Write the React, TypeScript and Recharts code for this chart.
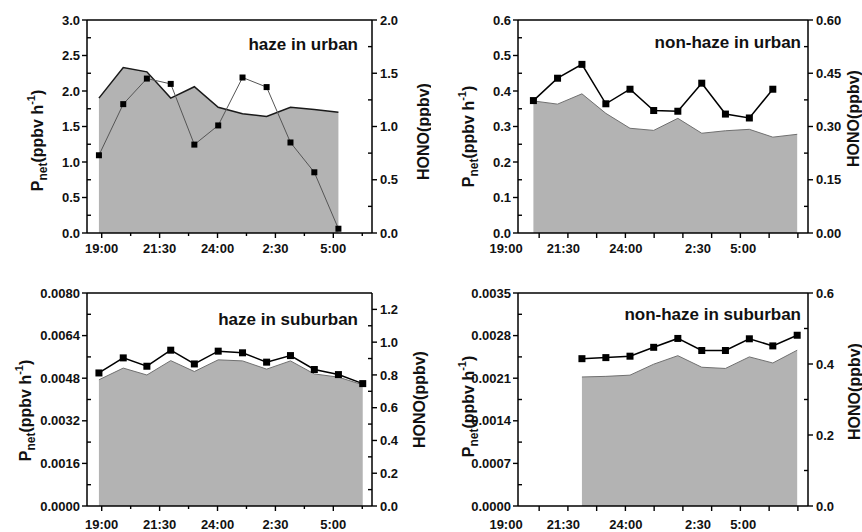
import React from 'react';
import { ComposedChart, Area, Line, XAxis, YAxis, ReferenceLine, Label } from 'recharts';

// time in hours (24 = midnight, 26.5 = 2:30 next day)
const hazeTime = [18.88, 19.93, 20.95, 21.98, 23.0, 24.03, 25.08, 26.12, 27.15, 28.18, 29.22, 30.27];
const nonHazeTime = [20.19, 21.24, 22.3, 23.34, 24.39, 25.42, 26.47, 27.51, 28.54, 29.58, 30.6, 31.66];

// haze in urban
const urbanHazePnet = [1.9, 2.33, 2.27, 1.9, 2.06, 1.77, 1.68, 1.64, 1.77, 1.74, 1.7];
const urbanHazeHono = [0.73, 1.21, 1.45, 1.4, 0.83, 1.01, 1.46, 1.37, 0.85, 0.57, 0.04];

// non-haze in urban
const urbanCleanPnet = [0.372, 0.363, 0.392, 0.337, 0.295, 0.289, 0.323, 0.281, 0.288, 0.292, 0.27, 0.278];
const urbanCleanHono = [0.373, 0.436, 0.475, 0.364, 0.405, 0.345, 0.343, 0.422, 0.335, 0.324, 0.405];

// haze in suburban
const suburbHazePnet = [0.00474, 0.00518, 0.00492, 0.00546, 0.00505, 0.00549, 0.00545, 0.00514, 0.00545, 0.00496, 0.00484, 0.00455];
const suburbHazeHono = [0.812, 0.904, 0.853, 0.951, 0.867, 0.945, 0.935, 0.878, 0.918, 0.833, 0.802, 0.747];

// non-haze in suburban (no data before ~22:20)
const suburbCleanTime = [22.3, 23.34, 24.39, 25.42, 26.47, 27.51, 28.54, 29.58, 30.6, 31.66];
const suburbCleanPnet = [0.00212, 0.00213, 0.00215, 0.00233, 0.00247, 0.00228, 0.00226, 0.00245, 0.00235, 0.00256];
const suburbCleanHono = [0.415, 0.418, 0.422, 0.447, 0.472, 0.438, 0.438, 0.471, 0.451, 0.481];

const timeLabels = ['19:00', '21:30', '24:00', '2:30', '5:00'];
const leftColLabelAt = [19, 21.5, 24, 26.5, 29];
const leftColMinor = [20.25, 22.75, 25.25, 27.75, 30.25];
const rightColLabelAt = [19.0, 21.49, 24.21, 27.35, 29.31];
const rightColTicks = [20.44, 21.69, 22.94, 24.19, 25.44, 26.69, 27.94, 29.19, 30.44, 31.69];

const FONT = '"Liberation Sans", Arial, Helvetica, sans-serif';

const table = (t: number[], pnet: number[], hono: number[]) =>
  t.map((time, i) => ({ time, pnet: pnet[i], hono: hono[i] ?? null }));

const yTick = (side: 'left' | 'right', majors: number[], decimals: number) => (props: any) => {
  const { x, y, payload } = props;
  const v = payload.value;
  const major = majors.includes(v);
  const out = side === 'left' ? -1 : 1;
  const x2 = major ? x + out * 5 : x - out * 4;
  return (
    <g>
      <line x1={x} y1={y} x2={x2} y2={y} stroke="#000" strokeWidth={1.4} />
      {major && (
        <text
          x={x + (side === 'left' ? -7 : 8)}
          y={y}
          dy="0.36em"
          textAnchor={side === 'left' ? 'end' : 'start'}
          fontFamily={FONT}
          fontWeight="bold"
          fontSize={13}
          fill="#111"
        >
          {v.toFixed(decimals)}
        </text>
      )}
    </g>
  );
};

const xTick = (lines: number[], minor: number[], labelAt: number[], labelDy: number) => (props: any) => {
  const { x, y, payload } = props;
  const v = payload.value;
  const li = labelAt.indexOf(v);
  const len = lines.includes(v) ? 5 : minor.includes(v) ? 3 : 0;
  return (
    <g>
      {len > 0 && <line x1={x} y1={y} x2={x} y2={y + len} stroke="#000" strokeWidth={1.4} />}
      {li >= 0 && (
        <text x={x} y={y + labelDy} textAnchor="middle" fontFamily={FONT} fontWeight="bold" fontSize={13} fill="#111">
          {timeLabels[li]}
        </text>
      )}
    </g>
  );
};

const pnetTitle = (bx: number, dyc: number) => (props: any) => {
  const vb = props.viewBox;
  const x = vb.x + bx;
  const y = vb.y + vb.height / 2 + dyc;
  return (
    <text transform={`rotate(-90 ${x} ${y})`} x={x} y={y} textAnchor="middle" fontFamily={FONT} fontWeight="bold" fontSize={16} fill="#111">
      <tspan>P</tspan>
      <tspan fontSize={12} dy={4}>net</tspan>
      <tspan dy={-4}>(ppbv h</tspan>
      <tspan fontSize={11} dy={-8}>-1</tspan>
      <tspan dy={8}>)</tspan>
    </text>
  );
};

const honoTitle = (bx: number, dyc: number) => (props: any) => {
  const vb = props.viewBox;
  const x = vb.x + bx;
  const y = vb.y + vb.height / 2 + dyc;
  return (
    <text transform={`rotate(-90 ${x} ${y})`} x={x} y={y} textAnchor="middle" fontFamily={FONT} fontWeight="bold" fontSize={16} fill="#111">
      HONO(ppbv)
    </text>
  );
};

const SquareDot = (size: number) => (props: any) => {
  const { cx, cy, index } = props;
  if (cx == null || cy == null) return <g key={`d-${index}`} />;
  return <rect key={`d-${index}`} x={cx - size / 2} y={cy - size / 2} width={size} height={size} fill="#000" />;
};

interface PanelProps {
  left: number;
  top: number;
  width: number;
  height: number;
  plotTop: number;
  xHeight: number;
  yLeftWidth: number;
  yRightWidth: number;
  data: { time: number; pnet: number; hono: number | null }[];
  xDomain: [number, number];
  xLines: number[];
  xMinor: number[];
  xLabelAt: number[];
  xLabelDy: number;
  leftMax: number;
  leftMajor: number[];
  leftMinor: number[];
  leftDec: number;
  rightMax: number;
  rightMajor: number[];
  rightMinor: number[];
  rightDec: number;
  pnetPos: [number, number];
  honoPos: [number, number];
  title: string;
  titleX: number;
  titleY: number;
  areaStroke: string;
  areaStrokeWidth: number;
  lineStroke: string;
  lineWidth: number;
  dotSize: number;
}

const Panel = (p: PanelProps) => {
  const xTicks = Array.from(new Set([...p.xLines, ...p.xMinor, ...p.xLabelAt]));
  return (
    <div style={{ position: 'absolute', left: p.left, top: p.top, width: p.width, height: p.height }}>
      <ComposedChart width={p.width} height={p.height} data={p.data} margin={{ top: p.plotTop, right: 0, bottom: 0, left: 0 }}>
        <XAxis
          dataKey="time"
          type="number"
          domain={p.xDomain}
          allowDataOverflow
          ticks={xTicks}
          interval={0}
          height={p.xHeight}
          tickSize={0}
          tickMargin={0}
          tickLine={false}
          axisLine={{ stroke: '#000', strokeWidth: 1.5 }}
          tick={xTick(p.xLines, p.xMinor, p.xLabelAt, p.xLabelDy)}
        />
        <YAxis
          yAxisId="left"
          type="number"
          domain={[0, p.leftMax]}
          allowDataOverflow
          ticks={[...p.leftMajor, ...p.leftMinor]}
          interval={0}
          width={p.yLeftWidth}
          tickSize={0}
          tickMargin={0}
          tickLine={false}
          axisLine={{ stroke: '#000', strokeWidth: 1.5 }}
          tick={yTick('left', p.leftMajor, p.leftDec)}
          label={<Label content={pnetTitle(p.pnetPos[0], p.pnetPos[1])} />}
        />
        <YAxis
          yAxisId="right"
          orientation="right"
          type="number"
          domain={[0, p.rightMax]}
          allowDataOverflow
          ticks={[...p.rightMajor, ...p.rightMinor]}
          interval={0}
          width={p.yRightWidth}
          tickSize={0}
          tickMargin={0}
          tickLine={false}
          axisLine={{ stroke: '#000', strokeWidth: 1.5 }}
          tick={yTick('right', p.rightMajor, p.rightDec)}
          label={<Label content={honoTitle(p.honoPos[0], p.honoPos[1])} />}
        />
        <Area
          yAxisId="left"
          type="linear"
          dataKey="pnet"
          fill="#b3b3b3"
          fillOpacity={1}
          stroke={p.areaStroke}
          strokeWidth={p.areaStrokeWidth}
          dot={false}
          activeDot={false}
          isAnimationActive={false}
        />
        <Line
          yAxisId="right"
          type="linear"
          dataKey="hono"
          stroke={p.lineStroke}
          strokeWidth={p.lineWidth}
          dot={SquareDot(p.dotSize)}
          activeDot={false}
          isAnimationActive={false}
        />
        <ReferenceLine yAxisId="left" y={p.leftMax} stroke="#000" strokeWidth={1.5} />
      </ComposedChart>
      <svg width={p.width} height={p.height} style={{ position: 'absolute', left: 0, top: 0, pointerEvents: 'none' }}>
        <text x={p.titleX} y={p.titleY} textAnchor="end" fontFamily={FONT} fontWeight="bold" fontSize={17} fill="#111">
          {p.title}
        </text>
      </svg>
    </div>
  );
};

const leftCol = {
  width: 431,
  yLeftWidth: 87,
  yRightWidth: 59,
  xDomain: [18.365, 30.67] as [number, number],
  xLines: leftColLabelAt,
  xMinor: leftColMinor,
  xLabelAt: leftColLabelAt,
  titleX: 358,
};

const rightCol = {
  width: 431,
  yLeftWidth: 87,
  yRightWidth: 54,
  xDomain: [19.52, 32.13] as [number, number],
  xLines: rightColTicks,
  xMinor: [] as number[],
  xLabelAt: rightColLabelAt,
  titleX: 370,
};

const App = () => {
  return (
    <div style={{ position: 'absolute', left: 0, top: 0, width: 862, height: 532, background: '#fff' }}>
      <Panel
        {...leftCol}
        left={0}
        top={0}
        height={270}
        plotTop={20}
        xHeight={37}
        xLabelDy={20}
        data={table(hazeTime, urbanHazePnet, urbanHazeHono)}
        leftMax={3}
        leftMajor={[0, 0.5, 1, 1.5, 2, 2.5, 3]}
        leftMinor={[0.25, 0.75, 1.25, 1.75, 2.25, 2.75]}
        leftDec={1}
        rightMax={2}
        rightMajor={[0, 0.5, 1, 1.5, 2]}
        rightMinor={[0.25, 0.75, 1.25, 1.75]}
        rightDec={1}
        pnetPos={[43, 14]}
        honoPos={[57, 5]}
        title="haze in urban"
        titleY={50}
        areaStroke="#1a1a1a"
        areaStrokeWidth={1.5}
        lineStroke="#555"
        lineWidth={1}
        dotSize={6}
      />
      <Panel
        {...rightCol}
        left={431}
        top={0}
        height={270}
        plotTop={20}
        xHeight={37}
        xLabelDy={20}
        data={table(nonHazeTime, urbanCleanPnet, urbanCleanHono)}
        leftMax={0.6}
        leftMajor={[0, 0.1, 0.2, 0.3, 0.4, 0.5, 0.6]}
        leftMinor={[0.05, 0.15, 0.25, 0.35, 0.45, 0.55]}
        leftDec={1}
        rightMax={0.6}
        rightMajor={[0, 0.15, 0.3, 0.45, 0.6]}
        rightMinor={[0.075, 0.225, 0.375, 0.525]}
        rightDec={2}
        pnetPos={[43, 10]}
        honoPos={[51, -8]}
        title="non-haze in urban"
        titleY={48}
        areaStroke="#707070"
        areaStrokeWidth={1}
        lineStroke="#000"
        lineWidth={1.5}
        dotSize={7}
      />
      <Panel
        {...leftCol}
        left={0}
        top={270}
        height={262}
        plotTop={23}
        xHeight={26}
        xLabelDy={23}
        data={table(hazeTime, suburbHazePnet, suburbHazeHono)}
        leftMax={0.008}
        leftMajor={[0, 0.0016, 0.0032, 0.0048, 0.0064, 0.008]}
        leftMinor={[0.0008, 0.0024, 0.004, 0.0056, 0.0072]}
        leftDec={4}
        rightMax={1.3}
        rightMajor={[0, 0.2, 0.4, 0.6, 0.8, 1, 1.2]}
        rightMinor={[0.1, 0.3, 0.5, 0.7, 0.9, 1.1]}
        rightDec={1}
        pnetPos={[31, 11]}
        honoPos={[53, 0]}
        title="haze in suburban"
        titleY={55}
        areaStroke="#707070"
        areaStrokeWidth={1}
        lineStroke="#000"
        lineWidth={1.5}
        dotSize={7}
      />
      <Panel
        {...rightCol}
        left={431}
        top={270}
        height={262}
        plotTop={23}
        xHeight={26}
        xLabelDy={23}
        data={table(suburbCleanTime, suburbCleanPnet, suburbCleanHono)}
        leftMax={0.0035}
        leftMajor={[0, 0.0007, 0.0014, 0.0021, 0.0028, 0.0035]}
        leftMinor={[0.00035, 0.00105, 0.00175, 0.00245, 0.00315]}
        leftDec={4}
        rightMax={0.6}
        rightMajor={[0, 0.2, 0.4, 0.6]}
        rightMinor={[0.1, 0.3, 0.5]}
        rightDec={1}
        pnetPos={[43, 7]}
        honoPos={[52, -8]}
        title="non-haze in suburban"
        titleY={50}
        areaStroke="#707070"
        areaStrokeWidth={1}
        lineStroke="#000"
        lineWidth={1.5}
        dotSize={7}
      />
    </div>
  );
};

export default App;
